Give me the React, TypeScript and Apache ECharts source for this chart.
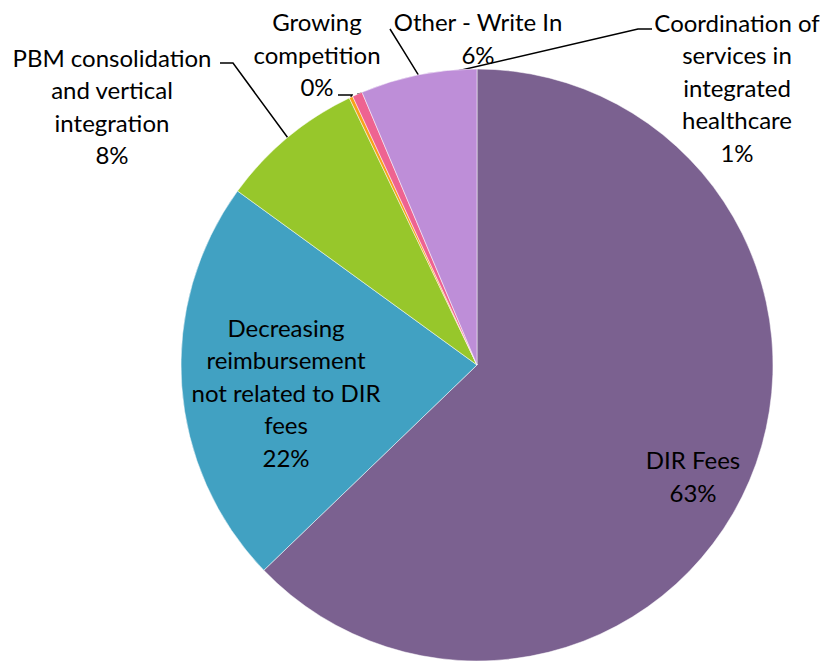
import React, { useEffect, useRef } from "react";
import * as echarts from "echarts";

// ---- data ----
const categories = [
  "DIR Fees",
  "Decreasing\nreimbursement\nnot related to DIR\nfees",
  "PBM consolidation\nand vertical\nintegration",
  "Growing\ncompetition",
  "Coordination of\nservices in\nintegrated\nhealthcare",
  "Other - Write In",
];
const shares = [62.8, 22.2, 7.9, 0.2, 0.55, 6.35];
const sliceColors = ["#7B6190", "#41A1C2", "#97C72B", "#F7A21B", "#EE6391", "#BE8ED8"];
const insideLabel = [true, true, false, false, false, false];

// ---- label placement (layout, not data) ----
// line: points after the slice-edge anchor; "straight" draws a single segment to the end point
const LABEL_LAYOUT: { x: number; y: number; line: number[][] | null; straight?: boolean }[] = [
  { x: 693, y: 476, line: null },
  { x: 286, y: 392, line: null },
  { x: 112, y: 106, line: [[233, 63], [220, 63]] },
  { x: 317, y: 54, line: [[352, 95], [338, 95]] },
  { x: 737, y: 87, line: [[638, 29], [652, 29]] },
  { x: 478, y: 38, line: [[390, 29]], straight: true },
];

const FONT = "Lato, 'Liberation Sans', sans-serif";
const LEADER = { color: "#000000", width: 1.5 };

export default function App() {
  const ref = useRef<HTMLDivElement>(null);
  useEffect(() => {
    if (!ref.current) return;
    const chart = echarts.init(ref.current, undefined, { renderer: "svg" });
    const data = categories.map((name, i) => ({
      name,
      value: shares[i],
      itemStyle: { color: sliceColors[i] },
      label: { position: insideLabel[i] ? "inside" : "outside" },
      labelLine: { show: !insideLabel[i], lineStyle: { ...LEADER } },
    }));
    chart.setOption({
      animation: false,
      backgroundColor: "#ffffff",
      series: [
        {
          type: "pie",
          center: [477, 365],
          radius: 296,
          startAngle: 90,
          clockwise: true,
          avoidLabelOverlap: false,
          itemStyle: { borderColor: "#ffffff", borderWidth: 0.5 },
          label: {
            show: true,
            color: "#000000",
            fontFamily: FONT,
            fontSize: 24,
            lineHeight: 32.5,
            align: "center",
            formatter: (p: any) => `${p.name}\n${Math.round(p.percent)}%`,
          },
          labelLine: {
            show: true,
            lineStyle: { ...LEADER },
          },
          labelLayout: (params: any) => {
            const L = LABEL_LAYOUT[params.dataIndex];
            const res: any = { x: L.x, y: L.y, align: "center", verticalAlign: "middle" };
            if (L.line && params.labelLinePoints && params.labelLinePoints.length) {
              const p0 = params.labelLinePoints[0];
              if (L.straight) {
                const end = L.line[0];
                const mid = [(p0[0] + end[0]) / 2, (p0[1] + end[1]) / 2];
                res.labelLinePoints = [p0, mid, end];
              } else {
                res.labelLinePoints = [p0, ...L.line];
              }
            }
            return res;
          },
          data,
        },
      ],
    });
    return () => chart.dispose();
  }, []);
  return (
    <div
      ref={ref}
      style={{ position: "fixed", left: 0, top: 0, width: 825, height: 663, background: "#fff" }}
    />
  );
}
